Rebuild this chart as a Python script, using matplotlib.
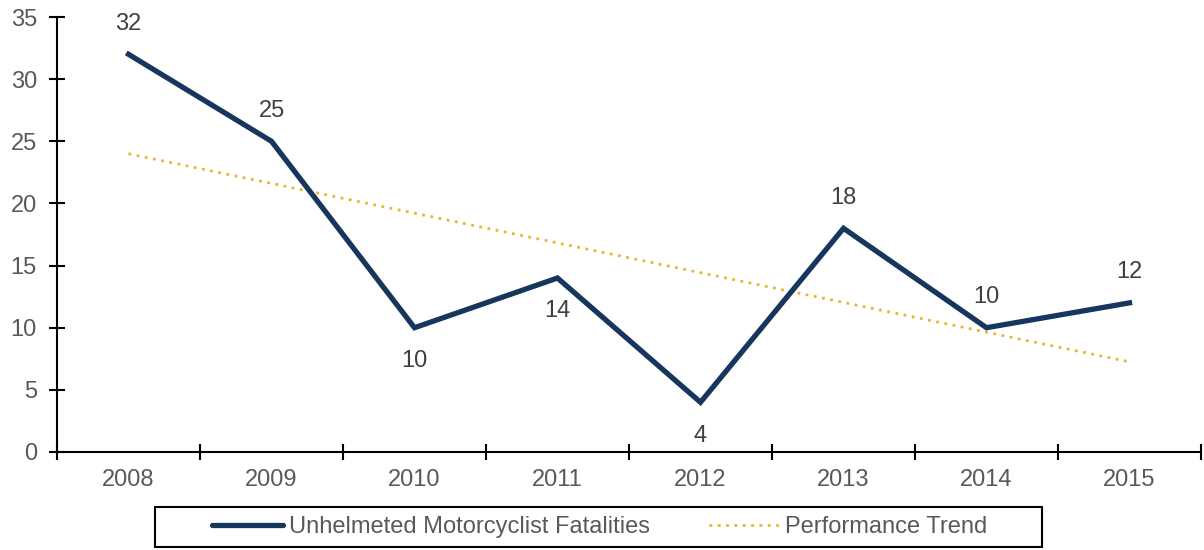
import numpy as np
import matplotlib
matplotlib.use("Agg")
from matplotlib import pyplot as plt
from matplotlib.patches import Rectangle

plt.rcParams['font.family'] = ['Liberation Sans', 'DejaVu Sans']

# Data
years = ['2008', '2009', '2010', '2011', '2012', '2013', '2014', '2015']
fatalities = [32, 25, 10, 14, 4, 18, 10, 12]
label_above = [True, True, False, False, False, True, True, True]
trend_start = 24.0  # trend value at 2008
trend_end = 7.25    # trend value at 2015

navy = '#17365D'
gold = '#E2B832'
grey = '#595959'

W, H = 1204, 550
fig = plt.figure(figsize=(W / 100, H / 100), dpi=100)
ax = fig.add_axes([57 / W, 1 - 452 / H, 1144 / W, 435 / H])

x = np.arange(len(years))
ax.plot(x, fatalities, color=navy, lw=3.8, solid_joinstyle='miter',
        label='Unhelmeted Motorcyclist Fatalities', zorder=3)
ax.plot([x[0], x[-1]], [trend_start, trend_end], color=gold, lw=2,
        linestyle=(0, (1, 2)), label='Performance Trend', zorder=2)

for xi, v, up in zip(x, fatalities, label_above):
    if up:
        ax.annotate(str(v), (xi, v), xytext=(0, 14), textcoords='offset points',
                    ha='center', va='bottom', fontsize=17, color='#404040')
    else:
        ax.annotate(str(v), (xi, v), xytext=(0, -16), textcoords='offset points',
                    ha='center', va='top', fontsize=17, color='#404040')

ax.set_xlim(-0.5, len(years) - 0.5)
ax.set_ylim(0, 35)
ax.set_yticks(np.arange(0, 36, 5))
ax.set_xticks(x)
ax.set_xticklabels(years)
ax.set_xticks(np.arange(-0.5, len(years), 1), minor=True)
ax.tick_params(axis='x', which='major', length=0, pad=12, labelsize=17, labelcolor=grey)
ax.tick_params(axis='x', which='minor', direction='inout', length=11, width=1.5)
ax.tick_params(axis='y', direction='inout', length=11, width=1.5, pad=9,
               labelsize=17, labelcolor=grey)
for s in ['top', 'right']:
    ax.spines[s].set_visible(False)
for s in ['left', 'bottom']:
    ax.spines[s].set_linewidth(1.5)

# legend without its own frame, box drawn separately
leg = fig.legend(*ax.get_legend_handles_labels(), loc='center left',
                 bbox_to_anchor=(212 / W, 1 - 527 / H), bbox_transform=fig.transFigure,
                 ncol=2, fontsize=17, frameon=False, handlelength=3.0,
                 handletextpad=0.25, columnspacing=2.5, borderpad=0, borderaxespad=0,
                 labelcolor=grey)
for h in leg.legend_handles:
    h.set_solid_capstyle('round')
fig.patches.append(Rectangle((155 / W, 1 - 547 / H), 887 / W, 40 / H,
                             transform=fig.transFigure, fill=False,
                             edgecolor='black', lw=1.5))

fig.savefig('out.png', dpi=100)
